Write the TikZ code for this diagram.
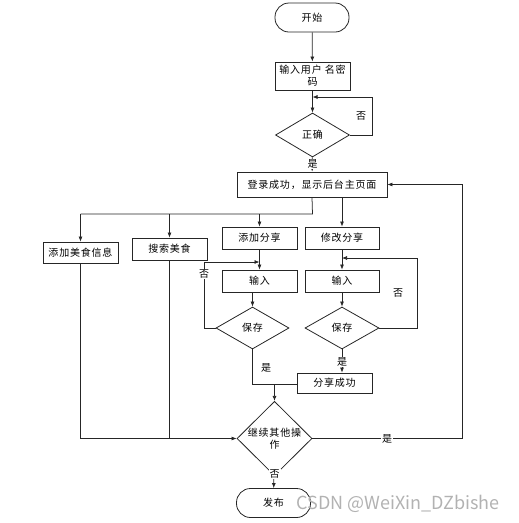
\documentclass[tikz,border=0pt]{standalone}
\usepackage{fontspec}
\setmainfont{Noto Sans CJK SC}[LetterSpace=8]
\newfontfamily\wmfont{Noto Sans CJK SC}
\usetikzlibrary{shapes.geometric,arrows.meta}
\tikzset{
  base/.style={draw=black!85,line width=0.8pt,inner sep=1pt,font=\fontsize{10}{12}\selectfont,align=center},
  box/.style={base,rectangle},
  term/.style={base,rectangle,rounded corners=14pt,minimum width=74pt,minimum height=29pt},
  dec/.style={base,diamond,inner sep=0pt},
  conn/.style={draw=black!85,line width=0.75pt},
  arr/.style={conn,-{Latex[length=5pt,width=4pt]}},
  lab/.style={font=\fontsize{10}{12}\selectfont,fill=white,inner sep=1pt}
}
\begin{document}
\begin{tikzpicture}[x=1pt,y=-1pt]
\useasboundingbox (0,0) rectangle (519,523);
% nodes
\node[term] (start) at (312,17.5) {开始};
\node[box,minimum width=75pt,minimum height=28pt] (input) at (312.5,76) {输入用户 名密\\码};
\node[dec,minimum width=74pt,minimum height=44pt] (correct) at (312.5,135) {正确};
\node[box,minimum width=150pt,minimum height=25pt] (login) at (312,184.5) {登录成功，显示后台主页面};
\node[box,minimum width=75pt,minimum height=21pt] (addfood) at (80.5,252.5) {添加美食信息};
\node[box,minimum width=75pt,minimum height=22pt] (search) at (169.5,249) {搜索美食};
\node[box,minimum width=75pt,minimum height=22pt] (addshare) at (259.5,238) {添加分享};
\node[box,minimum width=74pt,minimum height=22pt] (modshare) at (342,238) {修改分享};
\node[box,minimum width=75pt,minimum height=22pt] (inone) at (259.5,281) {输入};
\node[box,minimum width=74pt,minimum height=22pt] (intwo) at (342,281) {输入};
\node[dec,minimum width=73pt,minimum height=42pt] (saveone) at (252.5,328) {保存};
\node[dec,minimum width=74pt,minimum height=42pt] (savetwo) at (342,328) {保存};
\node[box,minimum width=75pt,minimum height=20pt] (success) at (334.5,383) {分享成功};
\node[dec,minimum width=75pt,minimum height=43pt] (cont) at (274.5,438.5) {继续其他操\\作};
\node[term] (publish) at (273.5,503) {发布};
% coordinates
\coordinate (ca) at (372,135);
\coordinate (cb) at (372,97);
\coordinate (cc) at (312.5,97);
\coordinate (la) at (312.5,214);
\coordinate (lb) at (80.5,214);
\coordinate (lc) at (169.5,214);
\coordinate (ld) at (259.5,214);
\coordinate (ma) at (204,328);
\coordinate (mb) at (204,262);
\coordinate (mc) at (259.5,262);
\coordinate (na) at (417,328);
\coordinate (nb) at (417,258);
\coordinate (nc) at (342,258);
\coordinate (pa) at (252.5,384);
\coordinate (pb) at (274.5,384);
\coordinate (qa) at (80.5,438.5);
\coordinate (qb) at (169.5,438.5);
\coordinate (ra) at (462,438.5);
\coordinate (rb) at (462,184.5);
% connectors
\draw[arr] (start) -- (input);
\draw[arr] (input) -- (correct);
\draw[arr] (correct.east) -- (ca) -- (cb) -- (cc);
\node[lab] (nolab1) at (361,116) {否};
\draw[arr] (correct) -- (login);
\node[lab] (yeslab1) at (312.5,164) {是};
\draw[conn] (login.south) -- (la) -- (lb);
\draw[arr] (lb) -- (addfood);
\draw[arr] (lc) -- (search);
\draw[arr] (ld) -- (addshare);
\draw[arr] (login.south -| modshare) -- (modshare);
\draw[arr] (addshare) -- (inone);
\draw[arr] (inone.south -| saveone) -- (saveone);
\draw[arr] (saveone.west) -- (ma) -- (mb) -- (mc);
\node[lab] (nolab2) at (204,274) {否};
\draw[arr] (modshare) -- (intwo);
\draw[arr] (intwo) -- (savetwo);
\draw[arr] (savetwo.east) -- (na) -- (nb) -- (nc);
\node[lab] (nolab3) at (398,293) {否};
\draw[arr] (savetwo) -- (success.north -| savetwo);
\node[lab] (yeslab2) at (342,362) {是};
\draw[conn] (saveone.south) -- (pa) -- (success.west |- pa);
\node[lab,fill=none] (yeslab3) at (266,368) {是};
\draw[arr] (pb) -- (cont.north);
\draw[conn] (addfood.south) -- (qa);
\draw[conn] (search.south) -- (qb);
\draw[arr] (qa) -- (cont.west);
\draw[arr] (cont.east) -- (ra) -- (rb) -- (login.east);
\node[lab] (yeslab4) at (387,439) {是};
\draw[arr] (cont) -- (publish);
\node[lab] (nolab4) at (274.5,474) {否};
% watermark
\node[font=\wmfont\fontsize{18}{20}\selectfont,text=black!30,inner sep=0pt] (wm) at (398,504) {CSDN @WeiXin\_DZbishe};
\end{tikzpicture}
\end{document}
